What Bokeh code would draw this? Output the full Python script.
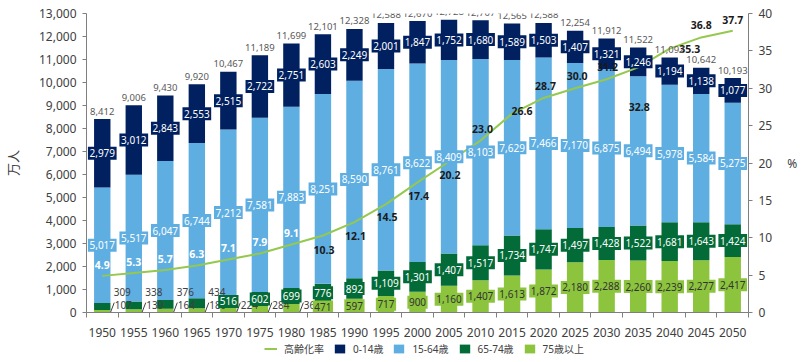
import numpy as np
from bokeh.plotting import figure
from bokeh.layouts import column
from bokeh.models import (ColumnDataSource, Range1d, LinearAxis, FixedTicker,
                          Legend, LegendItem, NumeralTickFormatter)
from bokeh.embed import file_html
from bokeh.resources import INLINE
from bokeh.core.properties import value

# ---------------- data ----------------
years = [1950, 1955, 1960, 1965, 1970, 1975, 1980, 1985, 1990, 1995, 2000,
         2005, 2010, 2015, 2020, 2025, 2030, 2035, 2040, 2045, 2050]
total = [8412, 9006, 9430, 9920, 10467, 11189, 11699, 12101, 12328, 12588, 12670,
         12728, 12707, 12565, 12588, 12254, 11912, 11522, 11092, 10642, 10193]
age_0_14 = [2979, 3012, 2843, 2553, 2515, 2722, 2751, 2603, 2249, 2001, 1847,
            1752, 1680, 1589, 1503, 1407, 1321, 1246, 1194, 1138, 1077]
age_15_64 = [5017, 5517, 6047, 6744, 7212, 7581, 7883, 8251, 8590, 8761, 8622,
             8409, 8103, 7629, 7466, 7170, 6875, 6494, 5978, 5584, 5275]
age_65_74 = [309, 338, 376, 434, 516, 602, 699, 776, 892, 1109, 1301,
             1407, 1517, 1734, 1747, 1497, 1428, 1522, 1681, 1643, 1424]
age_75_plus = [107, 139, 164, 189, 224, 284, 366, 471, 597, 717, 900,
               1160, 1407, 1613, 1872, 2180, 2288, 2260, 2239, 2277, 2417]
aging_rate = [4.9, 5.3, 5.7, 6.3, 7.1, 7.9, 9.1, 10.3, 12.1, 14.5, 17.4,
              20.2, 23.0, 26.6, 28.7, 30.0, 31.2, 32.8, 35.3, 36.8, 37.7]
series_names = ["高齢化率", "0-14歳", "15-64歳", "65-74歳", "75歳以上"]
y_label = "万人"
y2_label = "%"

# ---------------- style ----------------
FONT = "Noto Sans, Noto Sans CJK JP"
C_NAVY = "#002060"
C_BLUE = "#5eaee2"
C_DGREEN = "#036b37"
C_LGREEN = "#8cc43e"
C_LINE = "#95c84e"
C_AXIS = "#7f7f7f"
C_TEXT = "#404040"
BAR_W = 2.6
# rate-label offsets in screen pixels (dx, dy; dy positive = down)
rate_dx = [0, 0, 0, 0, 0, 0, 0, 1, 1, 1, 1, 1, 2, 10, 2, 2, 1, 1, 20, 0, 0]
rate_dy = [-11, -11, -11, -11, -11, -11, -11, 14, 14, 13, 14, 13, -12, -3, -12,
           -12, -12, 40, 0, -12, -11]
N_WHITE_RATE = 7       # first rate labels drawn in white on the blue bars
N_OUT_65 = 4           # 65-74 values written outside the bar
N_OUT_75 = 7           # 75+ values written outside the bar

a0 = np.array(age_0_14, dtype=float)
a15 = np.array(age_15_64, dtype=float)
a65 = np.array(age_65_74, dtype=float)
a75 = np.array(age_75_plus, dtype=float)

W = 800
p = figure(width=W, height=340,
           x_range=Range1d(years[0] - 2.5, years[-1] + 2.5),
           y_range=Range1d(0, 13000),
           output_backend="svg", toolbar_location=None,
           min_border_left=84, min_border_right=52,
           min_border_top=13, min_border_bottom=28)
p.xgrid.visible = False
p.ygrid.visible = False
p.outline_line_color = None
p.extra_y_ranges = {"rate": Range1d(0, 40)}

# ---------------- axes ----------------
yl = p.yaxis[0]
yl.ticker = FixedTicker(ticks=list(range(0, 13001, 1000)))
yl.formatter = NumeralTickFormatter(format="0,0")
yl.axis_label = y_label
yl.axis_label_text_font = FONT
yl.axis_label_text_font_size = "13px"
yl.axis_label_text_font_style = "normal"
yl.axis_label_text_color = C_TEXT
yl.axis_label_standoff = 14
yl.major_label_text_font = FONT
yl.major_label_text_font_size = "12px"
yl.major_label_text_color = C_TEXT
yl.major_label_standoff = 6
yl.major_tick_out = 4
yl.major_tick_in = 0
yl.minor_tick_out = 0
yl.minor_tick_in = 0
yl.axis_line_color = C_AXIS
yl.major_tick_line_color = C_AXIS

xa = p.xaxis[0]
xa.ticker = FixedTicker(ticks=years,
                        minor_ticks=[y - 2.5 for y in years] + [years[-1] + 2.5])
xa.major_tick_out = 0
xa.major_tick_in = 0
xa.minor_tick_out = 5
xa.minor_tick_in = 0
xa.minor_tick_line_color = C_AXIS
xa.axis_line_color = C_AXIS
xa.major_label_text_font = FONT
xa.major_label_text_font_size = "12px"
xa.major_label_text_color = C_TEXT
xa.major_label_standoff = 10

yr = LinearAxis(y_range_name="rate", ticker=FixedTicker(ticks=list(range(0, 41, 5))),
                axis_label=y2_label, axis_label_orientation="horizontal")
yr.axis_label_text_font = FONT
yr.axis_label_text_font_size = "12px"
yr.axis_label_text_font_style = "normal"
yr.axis_label_text_color = C_TEXT
yr.axis_label_standoff = 12
yr.major_label_text_font = FONT
yr.major_label_text_font_size = "12px"
yr.major_label_text_color = C_TEXT
yr.major_label_standoff = 6
yr.major_tick_out = 4
yr.major_tick_in = 0
yr.minor_tick_out = 0
yr.minor_tick_in = 0
yr.axis_line_color = C_AXIS
yr.major_tick_line_color = C_AXIS
p.add_layout(yr, "right")

# ---------------- bars ----------------
src = ColumnDataSource(dict(year=years, a75=age_75_plus, a65=age_65_74,
                            a15=age_15_64, a0=age_0_14))
bars = p.vbar_stack(["a75", "a65", "a15", "a0"], x="year", width=BAR_W,
                    fill_color=[C_LGREEN, C_DGREEN, C_BLUE, C_NAVY],
                    line_color=None, source=src)

# ---------------- aging-rate line ----------------
line_r = p.line(x=years, y=aging_rate, y_range_name="rate",
                line_color=C_LINE, line_width=2)

rate_colors = ["white" if i < N_WHITE_RATE else "#1a1a1a" for i in range(len(years))]
p.text(x=years, y=aging_rate, text=[f"{r:.1f}" for r in aging_rate],
       y_range_name="rate", x_offset=rate_dx, y_offset=rate_dy,
       text_color=rate_colors, text_font=value(FONT), text_font_size="10.5px",
       text_font_style="bold", text_align="center", text_baseline="middle")

# ---------------- outside small labels ----------------
zeros = [0] * len(years)
p.text(x=years[:N_OUT_65], y=zeros[:N_OUT_65],
       text=[f"{v:,}" for v in age_65_74[:N_OUT_65]],
       x_offset=20, y_offset=-21, text_color=C_TEXT, text_font=value(FONT),
       text_font_size="10px", text_align="center", text_baseline="middle")
p.text(x=years[:N_OUT_75], y=zeros[:N_OUT_75],
       text=[f"{v:,}" for v in age_75_plus[:N_OUT_75]],
       x_offset=21, y_offset=-8, text_color=C_TEXT, text_font=value(FONT),
       text_font_size="10px", text_align="center", text_baseline="middle")
lx0 = [y + BAR_W / 2 for y in years[:N_OUT_75]]
p.segment(x0=lx0, y0=zeros[:N_OUT_75], x1=[x + 0.6 for x in lx0],
          y1=[430] * N_OUT_75, line_color=C_TEXT, line_width=1)


# ---------------- boxed value labels ----------------
def box_labels(xs, ys, vals, fill, txt_color):
    labels = [f"{int(v):,}" for v in vals]
    widths = [3 + sum(2.7 if ch == "," else 5.75 for ch in s) for s in labels]
    p.rect(x=xs, y=ys, width=widths, height=13, width_units="screen",
           height_units="screen", fill_color=fill, line_color=None)
    p.text(x=xs, y=ys, text=labels, text_color=txt_color, text_font=value(FONT),
           text_font_size="10px", text_align="center", text_baseline="middle")


yrs = np.array(years)
box_labels(yrs[N_OUT_75:], (a75 / 2)[N_OUT_75:], a75[N_OUT_75:], C_LGREEN, "#333333")
box_labels(yrs[N_OUT_65:], (a75 + a65 / 2)[N_OUT_65:], a65[N_OUT_65:], C_DGREEN, "white")
box_labels(yrs, a75 + a65 + a15 / 2, a15, C_BLUE, "white")
box_labels(yrs, a75 + a65 + a15 + a0 / 2, a0, C_NAVY, "white")

# ---------------- totals ----------------
p.text(x=years, y=total, text=[f"{v:,}" for v in total], y_offset=-8,
       text_color="#595959", text_font=value(FONT), text_font_size="9.5px",
       text_align="center", text_baseline="middle")

# ---------------- legend (separate strip below the chart) ----------------
lg = figure(width=W, height=20, x_range=Range1d(0, 1), y_range=Range1d(0, 1),
            output_backend="svg", toolbar_location=None,
            x_axis_type=None, y_axis_type=None,
            min_border_left=0, min_border_right=0, min_border_top=0,
            min_border_bottom=0)
lg.xgrid.visible = False
lg.ygrid.visible = False
lg.outline_line_color = None
# legend-only renderers kept outside the visible range of the strip
lr_line = lg.line(x=[-5, -4], y=[-5, -5], line_color=C_LINE, line_width=2)
lr_bars = [lg.vbar(x=[-5], top=[-4], bottom=[-5], width=1, fill_color=c,
                   line_color=None)
           for c in [C_NAVY, C_BLUE, C_DGREEN, C_LGREEN]]
legend = Legend(items=[LegendItem(label=series_names[0], renderers=[lr_line])] +
                      [LegendItem(label=n, renderers=[r])
                       for n, r in zip(series_names[1:], lr_bars)],
                orientation="horizontal", location=(178, 4),
                border_line_color=None, background_fill_alpha=0,
                label_text_font=FONT, label_text_font_size="10px",
                label_text_color=C_TEXT, glyph_width=13, glyph_height=11,
                label_height=11, label_standoff=7, spacing=9, padding=0, margin=0)
lg.add_layout(legend)

open("out.html", "w").write(file_html(column(p, lg, spacing=0), INLINE))
